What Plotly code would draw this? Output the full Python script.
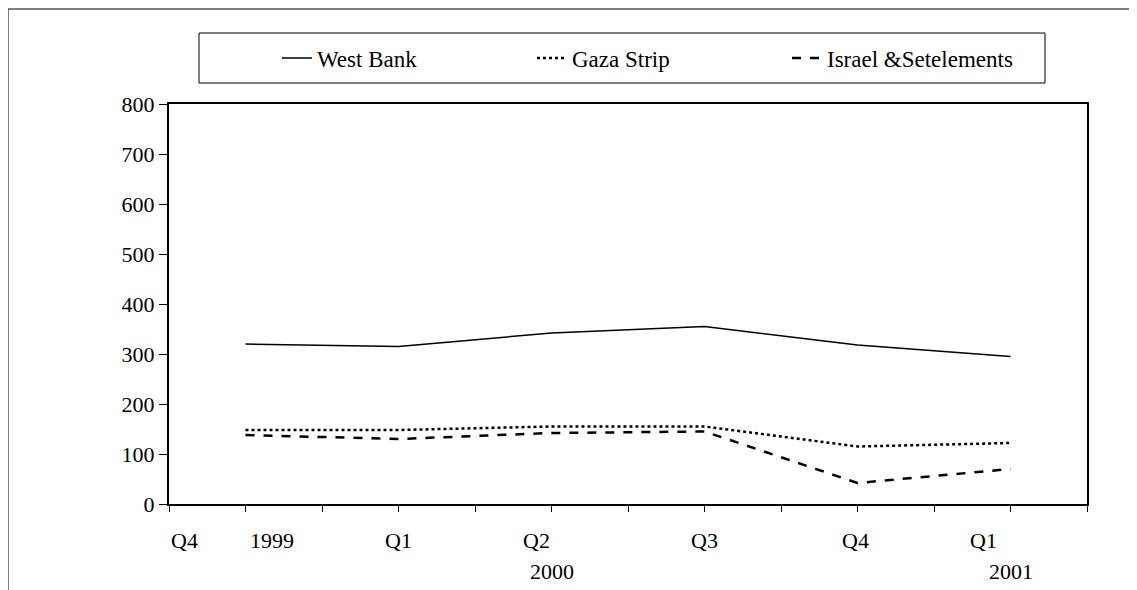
import plotly.graph_objects as go

# data points sit on every second slot of a 12-slot category axis
slots = [1, 3, 5, 7, 9, 11]
west_bank = [320, 315, 342, 355, 318, 295]
gaza_strip = [148, 148, 155, 155, 115, 122]
israel_settlements = [138, 130, 142, 145, 42, 70]

quarter_labels = ["Q4", "1999", "Q1", "Q2", "Q3", "Q4", "Q1"]
quarter_pos = [0.2, 1.35, 3.0, 4.8, 7.0, 8.97, 10.65]
year_labels = ["2000", "2001"]
year_pos = [5.0, 11.0]

font = "Liberation Serif, Times New Roman, serif"
OFF = 8  # page body margin
W, H = 1137 - OFF, 590 - OFF
L, R, T, B = 169 - OFF, 1087 - OFF, 104 - OFF, 504 - OFF


def px(x):
    return (x - OFF - L) / (R - L)


def py(y):
    return (B - (y - OFF)) / (B - T)


fig = go.Figure()
fig.add_trace(go.Scatter(x=slots, y=west_bank, mode="lines", name="West Bank",
                         line=dict(color="black", width=1.5)))
fig.add_trace(go.Scatter(x=slots, y=gaza_strip, mode="lines", name="Gaza Strip",
                         line=dict(color="black", width=2.5, dash="dot")))
fig.add_trace(go.Scatter(x=slots, y=israel_settlements, mode="lines", name="Israel &Setelements",
                         line=dict(color="black", width=2.5, dash="dash")))

for lab, pos in zip(quarter_labels, quarter_pos):
    fig.add_annotation(x=pos, y=py(540), xref="x", yref="paper", text=lab, showarrow=False,
                       yanchor="middle", font=dict(size=22, color="black", family=font))
for lab, pos in zip(year_labels, year_pos):
    fig.add_annotation(x=pos, y=py(571), xref="x", yref="paper", text=lab, showarrow=False,
                       yanchor="middle", font=dict(size=22, color="black", family=font))

# outer chart frame and legend box
fig.add_shape(type="rect", xref="paper", yref="paper", x0=px(8), x1=px(1136), y0=py(640), y1=py(9),
              line=dict(color="black", width=1))
fig.add_shape(type="rect", xref="paper", yref="paper", x0=px(199), x1=px(1045), y0=py(83), y1=py(33),
              line=dict(color="black", width=1))

fig.update_layout(
    width=W, height=H,
    margin=dict(l=L, r=W - R, t=T, b=H - B),
    plot_bgcolor="white", paper_bgcolor="white",
    font=dict(family=font, size=22, color="black"),
    showlegend=True,
    legend=dict(orientation="h", x=px(277), y=py(58), xanchor="left", yanchor="middle",
                bgcolor="rgba(0,0,0,0)", borderwidth=0, entrywidth=210, entrywidthmode="pixels",
                font=dict(size=23, family=font)),
    xaxis=dict(range=[0, 12], tickvals=list(range(0, 13)), showticklabels=False,
               ticks="outside", ticklen=6, tickcolor="black", showgrid=False, zeroline=False,
               showline=True, linecolor="black", linewidth=2, mirror=True),
    yaxis=dict(range=[0, 800], dtick=100, ticks="outside", ticklen=8, tickcolor="black",
               showgrid=False, zeroline=False, showline=True, linecolor="black", linewidth=2,
               mirror=True, tickfont=dict(size=22)),
)

fig.write_html("out.html")
